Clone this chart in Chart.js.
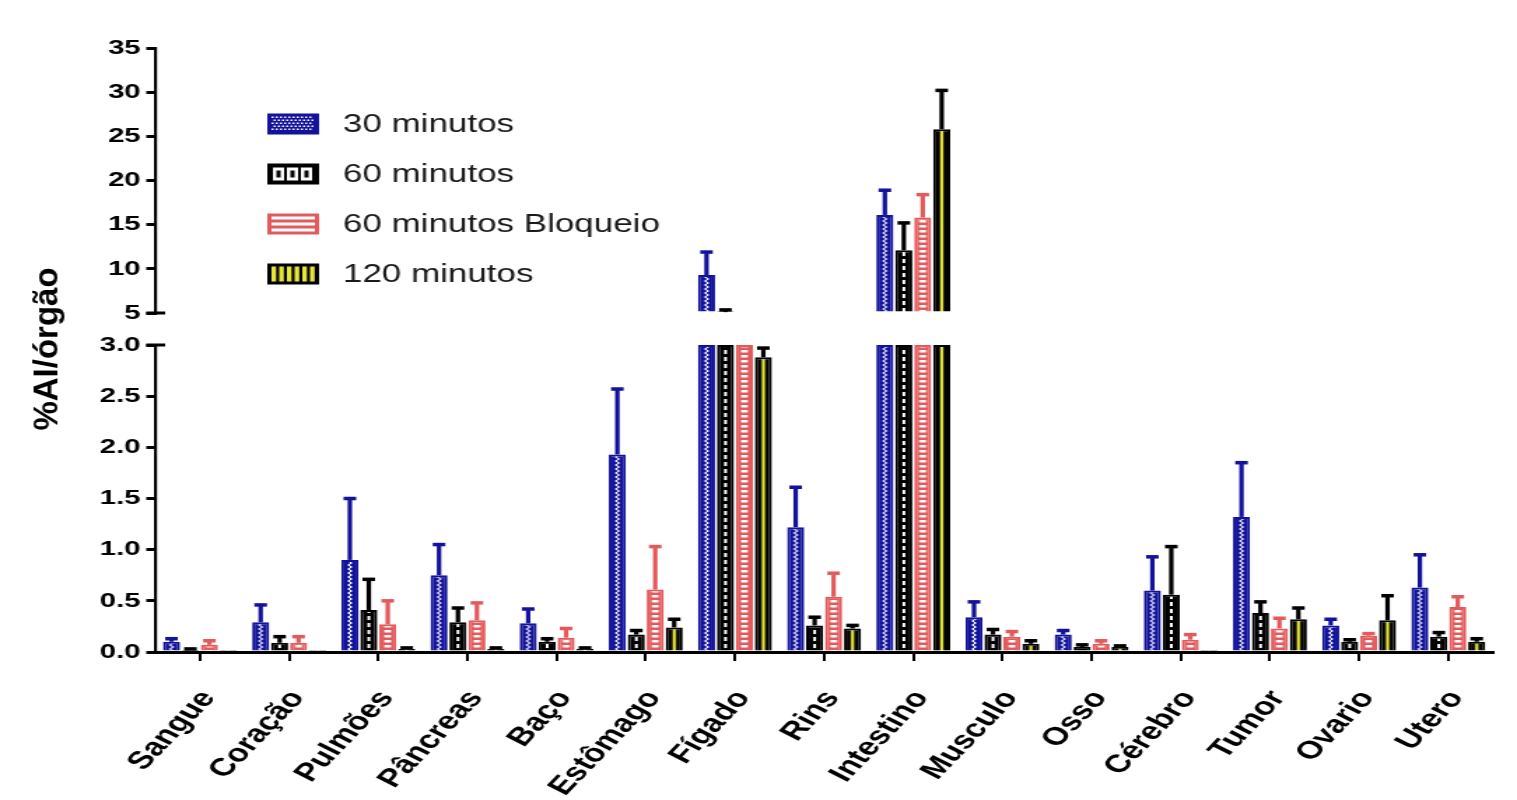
<!DOCTYPE html>
<html>
<head>
<meta charset="utf-8">
<script src="https://cdn.jsdelivr.net/npm/chart.js@4.4.1/dist/chart.umd.min.js"></script>
<style>
  html, body { margin: 0; padding: 0; background: #ffffff; overflow: hidden; }
  #wrap { position: absolute; left: 0; top: 0; width: 1084px; height: 800px; transform-origin: 0 0; }
</style>
</head>
<body>
<div id="wrap"><canvas id="c"></canvas></div>
<script>
// ---------------- data ----------------
const categories = ['Sangue', 'Coração', 'Pulmões', 'Pâncreas', 'Baço', 'Estômago', 'Fígado', 'Rins', 'Intestino', 'Musculo', 'Osso', 'Cérebro', 'Tumor', 'Ovario', 'Utero'];
const seriesLabels = ['30 minutos', '60 minutos', '60 minutos Bloqueio', '120 minutos'];

const min30      = [0.10, 0.29, 0.90, 0.75, 0.28, 1.93, 9.3, 1.22, 16.1, 0.34, 0.17, 0.60, 1.32, 0.26, 0.63];
const min30Err   = [0.03, 0.17, 0.60, 0.30, 0.14, 0.64, 2.6, 0.39, 2.8, 0.15, 0.04, 0.33, 0.53, 0.06, 0.32];
const min60      = [0.02, 0.09, 0.41, 0.29, 0.10, 0.17, 5.1, 0.26, 12.1, 0.17, 0.05, 0.56, 0.38, 0.10, 0.15];
const min60Err   = [0.01, 0.06, 0.30, 0.14, 0.03, 0.04, 0.25, 0.08, 3.1, 0.05, 0.02, 0.47, 0.11, 0.02, 0.04];
const min60Bloq  = [0.07, 0.09, 0.27, 0.31, 0.14, 0.61, 4.0, 0.54, 15.8, 0.15, 0.08, 0.12, 0.23, 0.16, 0.44];
const min60BloqErr = [0.04, 0.06, 0.23, 0.17, 0.09, 0.42, 0.5, 0.23, 2.6, 0.05, 0.03, 0.05, 0.10, 0.02, 0.10];
const min120     = [0.02, 0.02, 0.03, 0.03, 0.03, 0.24, 2.88, 0.23, 25.8, 0.08, 0.05, 0.02, 0.32, 0.31, 0.10];
const min120Err  = [0.00, 0.00, 0.01, 0.01, 0.01, 0.08, 0.09, 0.03, 4.4, 0.03, 0.01, 0.00, 0.11, 0.24, 0.03];

const lowAxisTicks  = [0, 0.5, 1.0, 1.5, 2.0, 2.5, 3.0];
const highAxisTicks = [5, 10, 15, 20, 25, 30, 35];
const yTitle = '%AI/órgão';

const seriesValues = [min30, min60, min60Bloq, min120];
const seriesErrors = [min30Err, min60Err, min60BloqErr, min120Err];

// ---------------- look ----------------
const SX = 1517 / 1084;            // horizontal stretch of the original picture
document.getElementById('wrap').style.transform = 'scaleX(' + SX + ')';
const FONT = '"Liberation Sans", Arial, Helvetica, sans-serif';
const BLUE = '#12129a', BLACK = '#000000', RED = '#e25a5c', YELLOW = '#e6e63a';
const solid   = [BLUE, BLACK, RED, BLACK];
const borders = [BLUE, BLACK, RED, BLACK];
const CAT_PCT = 0.85, BAR_PCT = 0.9;
const LOW_MAX = 3, HIGH_MIN = 5;

function makeTile(w, h, draw) {
  const c = document.createElement('canvas');
  c.width = w; c.height = h;
  draw(c.getContext('2d'));
  return c;
}
const tiles = [
  makeTile(16, 4, g => { g.fillStyle = BLUE; g.fillRect(0, 0, 16, 4); g.fillStyle = '#fff'; g.fillRect(6.6, 0, 1.6, 2); g.fillRect(7.8, 2, 1.6, 2); }),
  makeTile(16, 7, g => { g.fillStyle = BLACK; g.fillRect(0, 0, 16, 7); g.fillStyle = '#fff'; g.fillRect(7, 0, 2, 4); }),
  makeTile(16, 5, g => { g.fillStyle = RED; g.fillRect(0, 0, 16, 5); g.fillStyle = '#fff'; g.fillRect(5.6, 0, 4.8, 2.5); }),
  makeTile(16, 2, g => { g.fillStyle = BLACK; g.fillRect(0, 0, 16, 2); g.fillStyle = YELLOW; g.fillRect(6.8, 0, 2.4, 2); })
];

function patternFor(s) {
  return (ctx) => {
    if (ctx.type !== 'data') return solid[s];
    const chart = ctx.chart;
    const xs = chart.scales && chart.scales.x;
    if (!xs || !(xs.width > 0)) return solid[s];
    const catW = xs.width / categories.length;
    const slot = catW * CAT_PCT / 4;
    const cx = xs.getPixelForValue(ctx.dataIndex) + (s - 1.5) * slot;
    const p = chart.ctx.createPattern(tiles[s], 'repeat');
    p.setTransform(new DOMMatrix([1, 0, 0, 1, cx - 8, 0]));
    return p;
  };
}

const datasets = [];
seriesValues.forEach((vals, s) => {
  datasets.push({
    label: seriesLabels[s],
    data: vals.map(v => Math.min(v, LOW_MAX)),
    yAxisID: 'yLow', stack: 's' + s,
    backgroundColor: patternFor(s), borderColor: borders[s], borderWidth: 2,
    categoryPercentage: CAT_PCT, barPercentage: BAR_PCT
  });
});
seriesValues.forEach((vals, s) => {
  datasets.push({
    label: seriesLabels[s] + ' (alto)',
    data: vals.map(v => (v > HIGH_MIN ? v : null)),
    yAxisID: 'yHigh', stack: 's' + s, base: HIGH_MIN,
    backgroundColor: patternFor(s), borderColor: borders[s], borderWidth: 2,
    categoryPercentage: CAT_PCT, barPercentage: BAR_PCT
  });
});

// ---------------- plugins ----------------
const errorBars = {
  id: 'errorBars',
  afterDatasetsDraw(chart) {
    const g = chart.ctx, lo = chart.scales.yLow, hi = chart.scales.yHigh;
    g.save();
    seriesValues.forEach((vals, s) => {
      const meta = chart.getDatasetMeta(s);
      g.strokeStyle = borders[s];
      vals.forEach((v, i) => {
        const el = meta.data[i];
        if (!el) return;
        const top = v + seriesErrors[s][i];
        const x = el.x;
        const segs = [];
        if (v < LOW_MAX && top > v) segs.push([lo.getPixelForValue(v), lo.getPixelForValue(Math.min(top, LOW_MAX)), top <= LOW_MAX]);
        if (top > HIGH_MIN) segs.push([hi.getPixelForValue(Math.max(v, HIGH_MIN)), hi.getPixelForValue(top), true]);
        segs.forEach(([y1, y2, cap]) => {
          g.lineWidth = 3.2;
          g.beginPath(); g.moveTo(x, y1); g.lineTo(x, y2); g.stroke();
          if (cap) {
            g.lineWidth = 3.5;
            g.beginPath(); g.moveTo(x - 4.5, y2); g.lineTo(x + 4.5, y2); g.stroke();
          }
        });
      });
    });
    g.restore();
  }
};

const decorations = {
  id: 'decorations',
  afterDraw(chart) {
    const g = chart.ctx, area = chart.chartArea;
    const lo = chart.scales.yLow, hi = chart.scales.yHigh;
    g.save();
    // axis break marks
    g.strokeStyle = '#000'; g.lineWidth = 3;
    [hi.bottom, lo.top].forEach(y => {
      g.beginPath(); g.moveTo(area.left - 6.5, y); g.lineTo(area.left + 7, y); g.stroke();
    });
    // y title (drawn without the horizontal stretch)
    g.save();
    g.translate(35, 349);
    g.scale(1 / SX, 1);
    g.rotate(-Math.PI / 2);
    g.fillStyle = '#000';
    g.font = 'bold 33px ' + FONT;
    g.textAlign = 'center'; g.textBaseline = 'middle';
    g.fillText(yTitle, 0, 0);
    g.restore();
    // legend
    const bx = 191, bw = 37, bh = 21, rows = [124, 174, 224, 274];
    rows.forEach((cy, s) => {
      const by = cy - bh / 2;
      const ix = bx + 3, iy = by + 3, iw = bw - 6, ih = bh - 6;
      g.save();
      if (s === 0) {
        g.fillStyle = BLUE; g.fillRect(bx, by, bw, bh);
        g.fillStyle = '#fff';
        for (let yy = 0; yy < ih; yy += 3) for (let xx = ((yy / 3) % 2) * 1.5; xx < iw - 1; xx += 3) g.fillRect(ix + xx, iy + yy, 1.5, 1.5);
      } else if (s === 1) {
        g.fillStyle = BLACK; g.fillRect(bx, by, bw, bh);
        g.fillStyle = '#fff';
        for (let k = 0; k < 3; k++) { g.fillRect(ix + 1 + k * 10, iy + 1, 8, ih - 2); }
        g.fillStyle = BLACK;
        for (let k = 0; k < 3; k++) { g.fillRect(ix + 3.5 + k * 10, iy + 4, 3, ih - 8); }
      } else if (s === 2) {
        g.fillStyle = RED; g.fillRect(bx, by, bw, bh);
        g.fillStyle = '#fff';
        g.fillRect(ix, iy, iw, 3); g.fillRect(ix, iy + 6, iw, 3); g.fillRect(ix, iy + 12, iw, ih - 12);
      } else {
        g.fillStyle = BLACK; g.fillRect(bx, by, bw, bh);
        g.fillStyle = YELLOW;
        for (let xx = 0; xx < iw - 1; xx += 5.5) g.fillRect(ix + xx, iy, 3.3, ih);
      }
      g.restore();
      g.fillStyle = '#1a1a1a';
      g.font = '25px ' + FONT;
      g.textAlign = 'left'; g.textBaseline = 'middle';
      g.fillText(chart.data.datasets[s].label, 245, cy + 1);
    });
    g.restore();
  }
};

const tickFont = { family: FONT, size: 21, weight: 'bold' };
const yGrid = { display: true, drawOnChartArea: false, drawTicks: true, tickLength: 6.5, lineWidth: 3, color: '#000' };

new Chart(document.getElementById('c'), {
  type: 'bar',
  data: { labels: categories, datasets },
  options: {
    responsive: true,
    maintainAspectRatio: false,
    animation: false,
    events: [],
    layout: { padding: { top: 48, right: 16, bottom: 0, left: 0 } },
    plugins: { legend: { display: false }, tooltip: { enabled: false }, title: { display: false } },
    scales: {
      x: {
        type: 'category', offset: true,
        grid: { display: true, offset: false, drawOnChartArea: false, drawTicks: true, tickLength: 9, lineWidth: 2, color: '#000' },
        border: { display: true, width: 3, color: '#000' },
        ticks: { autoSkip: false, minRotation: 55, maxRotation: 55, labelOffset: 6, font: { family: FONT, size: 25, weight: 'bold' }, color: '#000', padding: 24 },
        afterFit: s => { s.height = 148; }
      },
      yHigh: {
        type: 'linear', position: 'left', stack: 'y', stackWeight: 265, weight: 3,
        min: HIGH_MIN, max: 35,
        afterBuildTicks: s => { s.ticks = highAxisTicks.map(v => ({ value: v })); },
        ticks: { autoSkip: false, font: tickFont, color: '#000', padding: 4, callback: v => String(v) },
        grid: yGrid,
        border: { display: true, width: 2.2, color: '#000' },
        afterFit: s => { s.width = 111; }
      },
      yGap: {
        type: 'linear', position: 'left', stack: 'y', stackWeight: 32, weight: 2,
        min: 0, max: 1,
        ticks: { display: false }, grid: { display: false }, border: { display: false },
        afterFit: s => { s.width = 111; }
      },
      yLow: {
        type: 'linear', position: 'left', stack: 'y', stackWeight: 307, weight: 1,
        min: 0, max: LOW_MAX,
        afterBuildTicks: s => { s.ticks = lowAxisTicks.map(v => ({ value: v })); },
        ticks: { autoSkip: false, font: tickFont, color: '#000', padding: 4, callback: v => Number(v).toFixed(1) },
        grid: yGrid,
        border: { display: true, width: 2.2, color: '#000' },
        afterFit: s => { s.width = 111; }
      }
    }
  },
  plugins: [errorBars, decorations]
});
</script>
</body>
</html>
